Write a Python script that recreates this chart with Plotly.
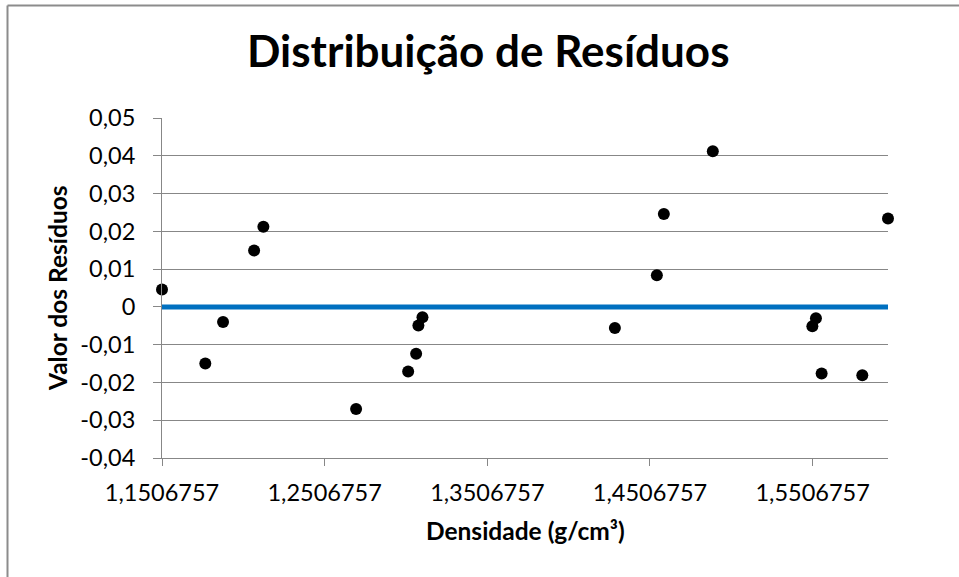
import plotly.graph_objects as go

# Data
densidade = [1.1506757, 1.1773, 1.1882, 1.2073, 1.2130, 1.2700, 1.3020, 1.3069,
             1.3083, 1.3108, 1.4291, 1.4549, 1.4592, 1.4893, 1.5505, 1.5527,
             1.5562, 1.5812, 1.5970]
residuos = [0.00458, -0.0150, -0.00397, 0.0149, 0.0212, -0.0270, -0.0171, -0.0124,
            -0.00495, -0.00275, -0.00556, 0.00837, 0.0246, 0.0412, -0.00513, -0.00301,
            -0.01766, -0.0181, 0.0234]

x_tickvals = [1.1506757, 1.2506757, 1.3506757, 1.4506757, 1.5506757]
x_ticktext = ["1,1506757", "1,2506757", "1,3506757", "1,4506757", "1,5506757"]
y_tickvals = [0.05, 0.04, 0.03, 0.02, 0.01, 0, -0.01, -0.02, -0.03, -0.04]
y_ticktext = ["0,05", "0,04", "0,03", "0,02", "0,01", "0", "-0,01", "-0,02", "-0,03", "-0,04"]

title_text = "Distribuição de Resíduos"
x_title = "Densidade (g/cm³)"
y_title = "Valor dos Resíduos"

FONT = "Lato"
GRID = "#878787"

fig = go.Figure()

# zero reference line across the data range
fig.add_trace(go.Scatter(
    x=[min(densidade), max(densidade)], y=[0, 0], mode="lines",
    line=dict(color="#0070C0", width=5), hoverinfo="skip", showlegend=False,
    cliponaxis=False,
))

fig.add_trace(go.Scatter(
    x=densidade, y=residuos, mode="markers",
    marker=dict(color="black", size=12, line=dict(width=0)),
    showlegend=False, cliponaxis=False,
))

fig.update_layout(
    width=959, height=577,
    margin=dict(l=162, r=71, t=118, b=119),
    paper_bgcolor="white", plot_bgcolor="white",
    font=dict(family=FONT, color="black"),
    showlegend=False,
    xaxis=dict(
        range=[min(densidade), max(densidade)],
        tickvals=x_tickvals, ticktext=x_ticktext,
        showgrid=False, zeroline=False,
        showline=True, linecolor=GRID, linewidth=1,
        ticks="outside", ticklen=7, tickcolor=GRID, tickwidth=1,
        tickfont=dict(size=23.5, family=FONT, color="black"),
        ticklabelstandoff=7,
    ),
    yaxis=dict(
        range=[-0.04, 0.05],
        tickvals=y_tickvals, ticktext=y_ticktext,
        showgrid=True, gridcolor=GRID, gridwidth=1,
        zeroline=False,
        showline=True, linecolor=GRID, linewidth=1,
        ticks="outside", ticklen=8, tickcolor=GRID, tickwidth=1,
        tickfont=dict(size=23.5, family=FONT, color="black"),
        ticklabelstandoff=13,
    ),
    annotations=[
        dict(text="<b>" + title_text + "</b>", xref="paper", yref="paper",
             x=(487.5 - 162) / 726, y=(458.4 - 50) / 340,
             xanchor="center", yanchor="middle", showarrow=False,
             font=dict(size=44, family=FONT, color="black")),
        dict(text="<b>" + x_title + "</b>", xref="paper", yref="paper",
             x=0.5, y=(458.4 - 531) / 340,
             xanchor="center", yanchor="middle", showarrow=False,
             font=dict(size=24.5, family=FONT, color="black")),
        dict(text="<b>" + y_title + "</b>", xref="paper", yref="paper",
             x=(57 - 162) / 726, y=0.5, textangle=-90,
             xanchor="center", yanchor="middle", showarrow=False,
             font=dict(size=24.5, family=FONT, color="black")),
    ],
    shapes=[
        dict(type="line", xref="paper", yref="paper",
             x0=(7.5 - 162) / 726, x1=(7.5 - 162) / 726,
             y0=(458.4 - 6) / 340, y1=(458.4 - 580) / 340,
             line=dict(color="#8C8C8C", width=2)),
        dict(type="line", xref="paper", yref="paper",
             x0=(7.5 - 162) / 726, x1=(962 - 162) / 726,
             y0=(458.4 - 6) / 340, y1=(458.4 - 6) / 340,
             line=dict(color="#8C8C8C", width=2)),
    ],
)

fig.write_html(
    "out.html",
    config={"displayModeBar": False},
    post_script="document.body.style.margin='0';document.body.style.overflow='hidden';",
)
